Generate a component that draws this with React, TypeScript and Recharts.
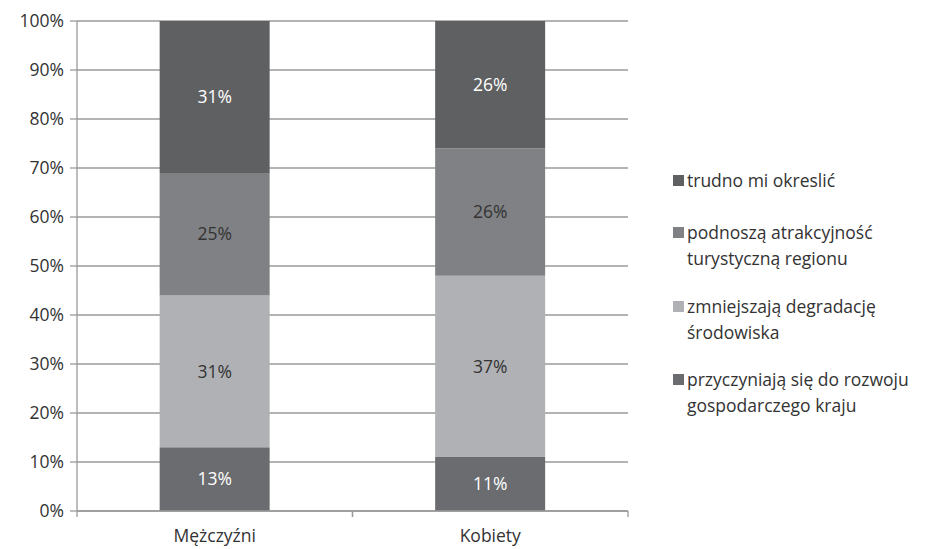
import React from 'react';
import { BarChart, Bar, XAxis, YAxis, CartesianGrid, LabelList } from 'recharts';

const categories = ['Mężczyźni', 'Kobiety'];
const przyczyniaja = [13, 11];
const zmniejszaja = [31, 37];
const podnosza = [25, 26];
const trudno = [31, 26];
const yTicks = [0, 10, 20, 30, 40, 50, 60, 70, 80, 90, 100];

const seriesNames = {
  a: 'przyczyniają się do rozwoju gospodarczego kraju',
  b: 'zmniejszają degradację środowiska',
  c: 'podnoszą atrakcyjność turystyczną regionu',
  d: 'trudno mi okreslić',
};

const data = categories.map((name, i) => ({
  name,
  a: przyczyniaja[i],
  b: zmniejszaja[i],
  c: podnosza[i],
  d: trudno[i],
}));

const FONT = "'Open Sans', sans-serif";
const FS = 17.5;
const AXIS = '#9a9a9a';
const colors = { a: '#6b6c70', b: '#b0b1b5', c: '#808184', d: '#5f6062' };
const labelColors = { a: '#ffffff', b: '#333333', c: '#333333', d: '#ffffff' };

const legendItems = [
  { key: 'd', lines: ['trudno mi okreslić'], top: 0 },
  { key: 'c', lines: ['podnoszą atrakcyjność', 'turystyczną regionu'], top: 52 },
  { key: 'b', lines: ['zmniejszają degradację', 'środowiska'], top: 126 },
  { key: 'a', lines: ['przyczyniają się do rozwoju', 'gospodarczego kraju'], top: 199 },
];

const LegendBox = () => (
  <div style={{ position: 'absolute', left: 673, top: 167, width: 260, height: 240, fontFamily: FONT, fontSize: FS, color: '#333' }}>
    {legendItems.map((it) => (
      <div key={it.key} style={{ position: 'absolute', left: 0, top: it.top }}>
        {it.lines.map((ln, j) => (
          <div key={j} style={{ position: 'relative', height: 26, lineHeight: '26px', paddingLeft: 14, whiteSpace: 'nowrap' }}>
            {j === 0 && (
              <span style={{ position: 'absolute', left: 0, top: 8, width: 11, height: 11, background: colors[it.key] }} />
            )}
            {ln}
          </div>
        ))}
      </div>
    ))}
  </div>
);

// tickSize=6 and tickMargin=8 => label y is axis y + 14
const CatTick = (props) => {
  const { x, y, payload } = props;
  const half = payload && typeof payload.offset === 'number' ? payload.offset : 0;
  const axisY = y - 14;
  return (
    <g>
      <line x1={x - half} x2={x - half} y1={axisY} y2={axisY + 6} stroke={AXIS} strokeWidth={1.3} />
      <line x1={x + half} x2={x + half} y1={axisY} y2={axisY + 6} stroke={AXIS} strokeWidth={1.3} />
      <text x={x} y={y + 12} textAnchor="middle" dominantBaseline="middle" fill="#333" fontSize={FS} fontFamily={FONT}>
        {payload.value}
      </text>
    </g>
  );
};

export default function App() {
  const keys = ['a', 'b', 'c', 'd'];
  return (
    <div style={{ position: 'absolute', left: 0, top: 0, width: 927, height: 549, background: '#fff' }}>
      <BarChart width={927} height={549} data={data} margin={{ top: 21, right: 299, bottom: 8, left: 0 }} barCategoryGap="30%">
        <CartesianGrid vertical={false} stroke={AXIS} strokeWidth={1.3} />
        <XAxis
          dataKey="name"
          height={30}
          tickLine={false}
          tickSize={6}
          tickMargin={8}
          axisLine={{ stroke: AXIS, strokeWidth: 1.3 }}
          tick={<CatTick />}
        />
        <YAxis
          width={77}
          domain={[0, 100]}
          ticks={yTicks}
          interval={0}
          tickFormatter={(v) => `${v}%`}
          tickSize={7}
          tickLine={{ stroke: AXIS, strokeWidth: 1.3 }}
          axisLine={{ stroke: AXIS, strokeWidth: 1.3 }}
          tick={{ fill: '#333', fontSize: FS, fontFamily: FONT }}
          tickMargin={6}
        />
        {keys.map((k) => (
          <Bar key={k} dataKey={k} name={seriesNames[k]} stackId="s" fill={colors[k]} isAnimationActive={false}>
            <LabelList
              dataKey={k}
              position="center"
              formatter={(v) => `${v}%`}
              fill={labelColors[k]}
              style={{ fontSize: FS, fontFamily: FONT }}
            />
          </Bar>
        ))}
      </BarChart>
      <LegendBox />
    </div>
  );
}
